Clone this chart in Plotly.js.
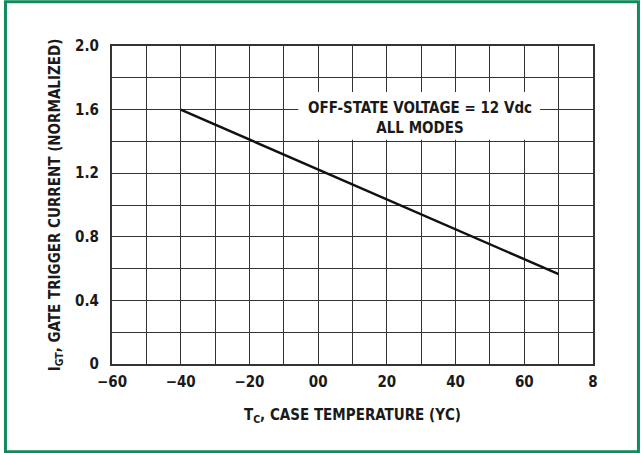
<!DOCTYPE html>
<html>
<head>
<meta charset="utf-8">
<script src="https://cdn.plot.ly/plotly-3.0.1.min.js"></script>
<style>html,body{margin:0;padding:0;background:#fff;}#chart{width:641px;height:453px;}</style>
</head>
<body>
<div id="chart"></div>
<script>
// Data
var caseTemp = [-40, 70];
var gateCurrent = [1.6, 0.565];
var xTickVals = [-60, -40, -20, 0, 20, 40, 60, 80];
var xTickText = ["\u221260", "\u221240", "\u221220", "00", "20", "40", "60", "8"];
var yTickVals = [0, 0.4, 0.8, 1.2, 1.6, 2.0];
var yTickText = ["0", "0.4", "0.8", "1.2", "1.6", "2.0"];
var noteText = "OFF-STATE VOLTAGE = 12 Vdc<br>ALL MODES";

var FONT = "'Liberation Sans Narrow', 'DejaVu Sans Condensed', Arial, sans-serif";

var trace = {
  x: caseTemp, y: gateCurrent, type: 'scatter', mode: 'lines',
  line: {color: '#111', width: 2.5}, hoverinfo: 'skip', showlegend: false
};

var layout = {
  width: 641, height: 453,
  margin: {l: 112, r: 48, t: 46, b: 89},
  paper_bgcolor: '#fff', plot_bgcolor: '#fff',
  font: {family: FONT, color: '#1a1a1a', size: 15, weight: 'bold'},
  xaxis: {
    range: [-60, 80], tickmode: 'array', tickvals: xTickVals, ticktext: xTickText,
    showgrid: true, gridcolor: '#333', gridwidth: 1, zeroline: false,
    minor: {tick0: -60, dtick: 10, showgrid: true, gridcolor: '#333', gridwidth: 1, ticks: ''},
    showline: true, linecolor: '#333', linewidth: 2, mirror: true,
    ticks: '', ticklabelstandoff: 3,
    tickfont: {family: FONT, size: 15, weight: 'bold', color: '#1a1a1a'},
    title: {text: 'T<sub>C</sub>, CASE TEMPERATURE (\u03A5C)', standoff: 19,
            font: {family: FONT, size: 15, weight: 'bold', color: '#1a1a1a'}},
    fixedrange: true
  },
  yaxis: {
    range: [0, 2.0], tickmode: 'array', tickvals: yTickVals, ticktext: yTickText,
    showgrid: true, gridcolor: '#333', gridwidth: 1, zeroline: false,
    minor: {tick0: 0, dtick: 0.2, showgrid: true, gridcolor: '#333', gridwidth: 1, ticks: ''},
    showline: true, linecolor: '#333', linewidth: 2, mirror: true,
    ticks: '', ticklabelstandoff: 8,
    tickfont: {family: FONT, size: 15, weight: 'bold', color: '#1a1a1a'},
    title: {text: 'I<sub>GT</sub>, GATE TRIGGER CURRENT (NORMALIZED)', standoff: 11,
            font: {family: FONT, size: 15, weight: 'bold', color: '#1a1a1a'}},
    fixedrange: true
  },
  shapes: [
    {type: 'rect', xref: 'x', yref: 'y', x0: -5.8, x1: 64.6, y0: 1.41, y1: 1.71,
     fillcolor: '#fff', line: {width: 0}, layer: 'above'},
    {type: 'rect', xref: 'paper', yref: 'paper', x0: -0.2215, x1: 1.0945, y0: -0.276, y1: 1.139,
     fillcolor: 'rgba(0,0,0,0)', line: {color: '#118a5c', width: 3}, layer: 'above'}
  ],
  annotations: [
    {xref: 'x', yref: 'y', x: 29.5, y: 1.545, text: noteText, showarrow: false,
     font: {family: FONT, size: 15, weight: 'bold', color: '#1a1a1a'}, align: 'center'}
  ]
};

Plotly.newPlot('chart', [trace], layout, {displayModeBar: false, staticPlot: true});
</script>
</body>
</html>
